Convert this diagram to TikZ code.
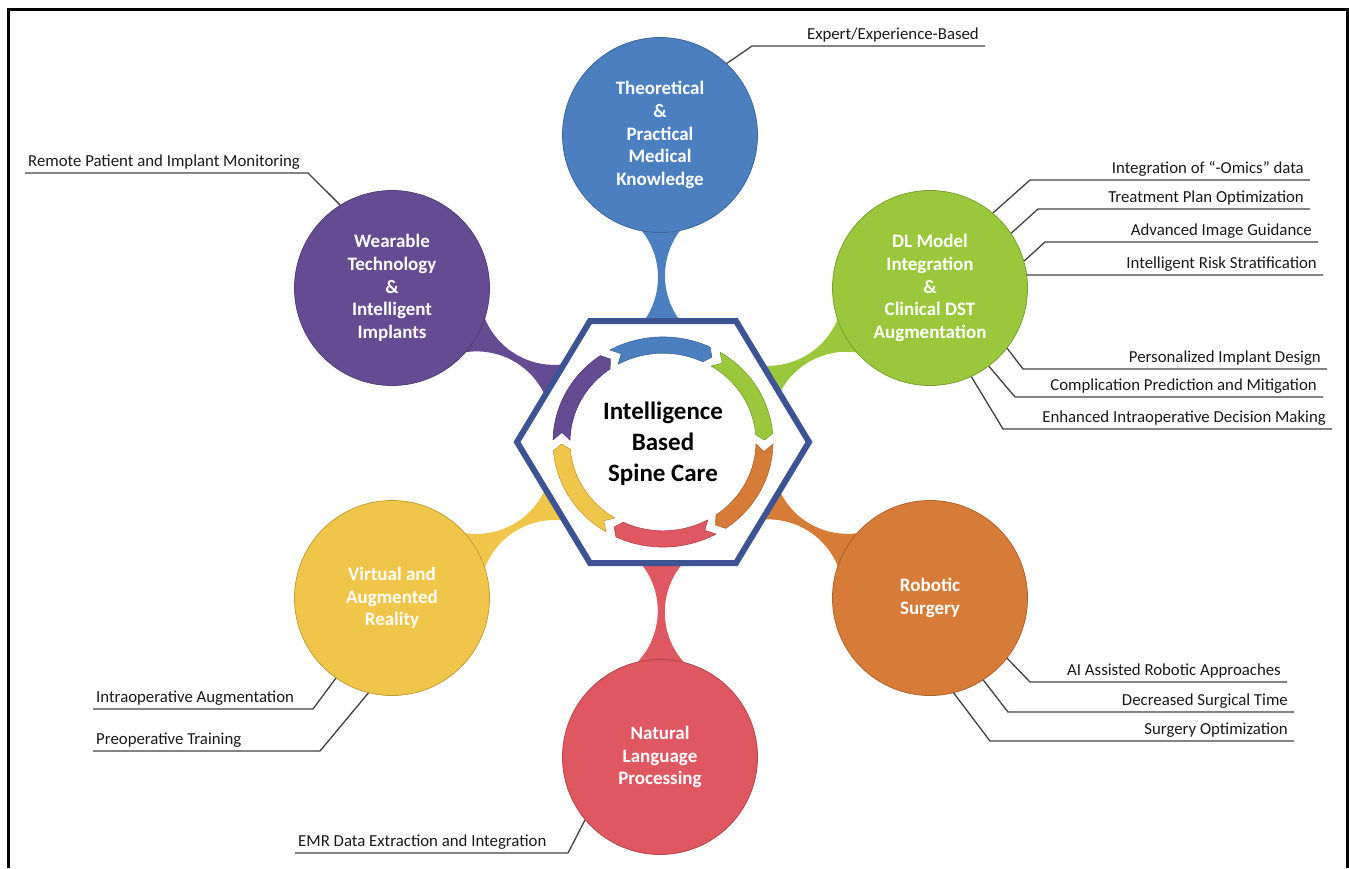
\documentclass[tikz,border=0pt]{standalone}
\usepackage{fontspec}
\setmainfont{Carlito}
\definecolor{cblue}{HTML}{4C7FC0}
\definecolor{cgreen}{HTML}{9BC73D}
\definecolor{corange}{HTML}{D67C38}
\definecolor{cred}{HTML}{DF5760}
\definecolor{cyellow}{HTML}{F0C64A}
\definecolor{cpurple}{HTML}{654B91}
\definecolor{hexblue}{HTML}{3D5393}
\tikzset{
 bubble/.style={circle, fill=#1, draw=#1!80!black, line width=0.8, minimum size=195, inner sep=0, text=white, font=\bfseries\fontsize{19}{22.6}\selectfont, align=center},
 lbl/.style={inner sep=0, font=\fontsize{16.8}{19}\selectfont, text=black!90},
 leader/.style={draw=black!75, line width=1.3},
}
\newcommand\drawneck[4]{%
 \begin{scope}[shift={#1},rotate=-#2]
 \pgfmathsetmacro\neckm{(97+#3)/2}
 \pgfmathsetmacro\neckend{#3+3}
 \fill[#4] plot[domain=90:\neckend,samples=40] (\x,{78.5-sqrt(5625-(\x-\neckm)^2)})
   -- plot[domain=\neckend:90,samples=40] (\x,{-78.5+sqrt(5625-(\x-\neckm)^2)}) -- cycle;
 \end{scope}}
\newcommand\ringseg[2]{%
 \pgfmathsetmacro\ra{#1+1.2}
 \pgfmathsetmacro\rh{#1+60-1.2}
 \pgfmathsetmacro\rht{\rh-3.5}
 \pgfmathsetmacro\rat{\ra+4.5}
 \filldraw[fill=#2, draw=#2!80!black, line width=0.6, line join=round]
   plot[domain=\ra:\rht, samples=30] (\x:110) -- (\rh:101.5)
   -- plot[domain=\rht:\ra, samples=30] (\x:93) -- (\rat:101.5) -- cycle;}
\newcommand\rlab[6]{%
 \coordinate (#1k) at (#3,#4);
 \coordinate (#1e) at (#5,#4);
 \draw[leader] (#2) -- (#1k) -- (#1e);
 \node[lbl, anchor=base east] (#1) at (#5-6,#4-7) {#6};}
\newcommand\llab[6]{%
 \coordinate (#1k) at (#3,#4);
 \coordinate (#1e) at (#5,#4);
 \draw[leader] (#2) -- (#1k) -- (#1e);
 \node[lbl, anchor=base west] (#1) at (#5+3,#4-7) {#6};}
\begin{document}
\begin{tikzpicture}[x=1pt,y=-1pt]
\useasboundingbox (0,0) rectangle (1349,868);
\draw[line width=3] (8,868) -- (8,9) -- (1347,9) -- (1347,868);
% necks
\drawneck{(660,135)}{89.4}{186}{cblue}
\drawneck{(930,288)}{150}{186}{cgreen}
\drawneck{(930,598)}{210.3}{186}{corange}
\drawneck{(660,757)}{270.5}{194}{cred}
\drawneck{(392,598)}{330.1}{188}{cyellow}
\drawneck{(392,288)}{29.6}{187}{cpurple}
% circles
\node[bubble=cblue] (theo) at (660,135) {Theoretical\\\&\\Practical\\Medical\\Knowledge};
\node[bubble=cgreen] (dl) at (930,288) {DL Model\\Integration\\\&\\Clinical DST\\Augmentation};
\node[bubble=corange] (robot) at (930,598) {Robotic\\Surgery};
\node[bubble=cred] (nlp) at (660,757) {Natural\\Language\\Processing};
\node[bubble=cyellow] (virt) at (392,598) {Virtual and\\Augmented\\Reality};
\node[bubble=cpurple] (wear) at (392,288) {Wearable\\Technology\\\&\\Intelligent\\Implants};
% hexagon
\filldraw[fill=white, draw=hexblue, line width=6] (517,442) -- (590,321) -- (736,321) -- (809,442) -- (736,563) -- (590,563) -- cycle;
% ring
\begin{scope}[shift={(663,442)}, yscale=0.955]
\ringseg{-120}{cblue}
\ringseg{-60}{cgreen}
\ringseg{0}{corange}
\ringseg{60}{cred}
\ringseg{120}{cyellow}
\ringseg{180}{cpurple}
\end{scope}
\node[font=\bfseries\fontsize{25}{31}\selectfont, align=center, inner sep=0] (hub) at (663,444) {Intelligence\\Based\\Spine Care};
% labels
\rlab{b1}{theo.47}{752}{46}{985}{Expert/Experience-Based}
\rlab{g1}{dl.50}{1030}{180}{1310}{Integration of ``-Omics'' data}
\rlab{g2}{dl.34}{1038}{209}{1310}{Treatment Plan Optimization}
\rlab{g3}{dl.16}{1045}{242}{1318}{Advanced Image Guidance}
\rlab{g4}{dl.8}{1027}{275}{1323}{Intelligent Risk Stratification}
\rlab{g5}{dl.-38}{1023}{369}{1327}{Personalized Implant Design}
\rlab{g6}{dl.-53}{1015}{397}{1323}{Complication Prediction and Mitigation}
\rlab{g7}{dl.-65}{1003}{429}{1332}{Enhanced Intraoperative Decision Making}
\rlab{o1}{robot.-38}{1030}{682}{1287}{AI Assisted Robotic Approaches}
\rlab{o2}{robot.-57}{1008}{712}{1294}{Decreased Surgical Time}
\rlab{o3}{robot.-76}{990}{741}{1294}{Surgery Optimization}
\llab{y1}{virt.-125}{313}{709}{93}{Intraoperative Augmentation}
\llab{y2}{virt.-104}{320}{751}{93}{Preoperative Training}
\llab{p1}{wear.122}{308}{173}{25}{Remote Patient and Implant Monitoring}
\llab{r1}{nlp.-140}{568}{853}{295}{EMR Data Extraction and Integration}
\end{tikzpicture}
\end{document}
